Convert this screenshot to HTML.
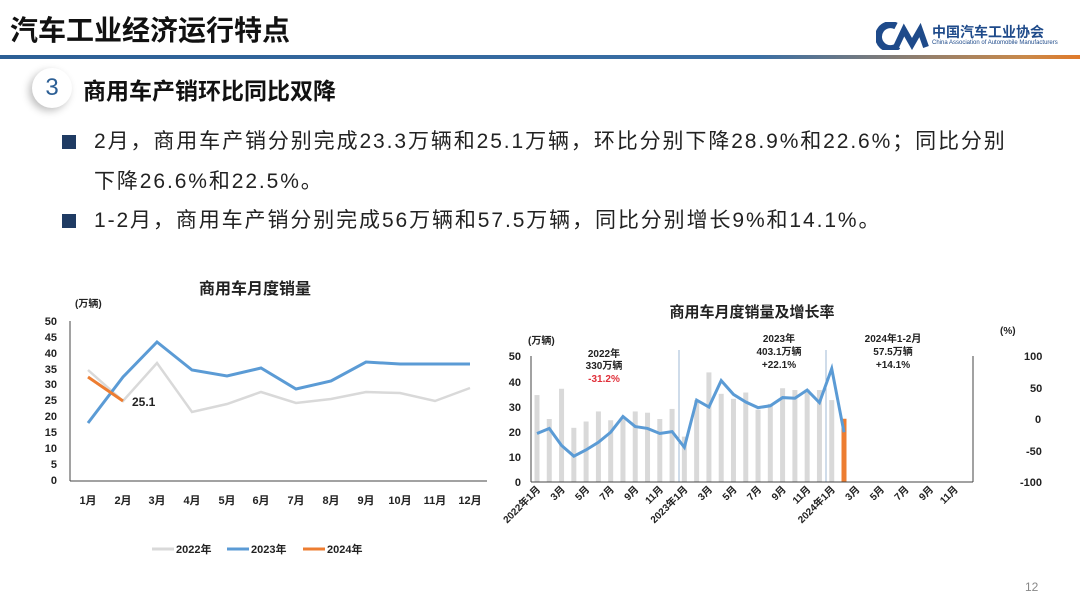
<!DOCTYPE html>
<html><head><meta charset="utf-8"><style>
body{margin:0;width:1080px;height:604px;background:#fff;position:relative;overflow:hidden;font-family:"Liberation Sans","Noto Sans CJK SC",sans-serif;color:#222}
.a{position:absolute;white-space:nowrap}
</style></head><body>
<div class="a" style="left:10px;top:9px;font-size:28px;font-weight:bold;color:#111">汽车工业经济运行特点</div>
<div class="a" style="left:0;top:55px;width:1080px;height:4px;background:linear-gradient(90deg,#2c5f95 0%,#3a6fa5 70%,#c9894a 95%,#e07a2a 100%)"></div>
<svg class="a" style="left:876px;top:22px" width="55" height="28" viewBox="0 0 55 28"><path d="M20 4 A12 12 0 1 0 22 24" stroke="#1e4a8a" stroke-width="7" fill="none"/><path d="M20 25 L28 8 L36 22 L44 8 L50 25" stroke="#1e4a8a" stroke-width="6" fill="none"/></svg>
<div class="a" style="left:932px;top:22px;font-size:14px;font-weight:bold;color:#1e4a8a">中国汽车工业协会</div>
<div class="a" style="left:932px;top:40px;font-size:6px;color:#1e4a8a">China Association of Automobile Manufacturers</div>
<div class="a" style="left:32px;top:68px;width:40px;height:40px;border-radius:50%;background:#fff;box-shadow:-3px 3px 8px rgba(0,0,0,0.25);font-size:24px;color:#2c5f95;text-align:center;line-height:40px">3</div>
<div class="a" style="left:83px;top:72px;font-size:23px;font-weight:bold;color:#111">商用车产销环比同比双降</div>
<div class="a" style="left:62px;top:135px;width:14px;height:14px;background:#1f3b63"></div>
<div class="a" style="left:94px;top:122px;font-size:21px;letter-spacing:1.9px;line-height:40px;color:#222">2月，商用车产销分别完成23.3万辆和25.1万辆，环比分别下降28.9%和22.6%；同比分别<br>下降26.6%和22.5%。</div>
<div class="a" style="left:62px;top:214px;width:14px;height:14px;background:#1f3b63"></div>
<div class="a" style="left:94px;top:206px;font-size:21px;letter-spacing:1.9px;line-height:30px;color:#222">1-2月，商用车产销分别完成56万辆和57.5万辆，同比分别增长9%和14.1%。</div>
<div class="a" style="left:1025px;top:580px;font-size:12px;color:#888">12</div>

<svg class="a" style="left:0;top:0" width="1080" height="604" font-family="Liberation Sans,Noto Sans CJK SC,sans-serif" font-weight="bold">
<text x="255" y="294" font-size="16" text-anchor="middle" fill="#222">商用车月度销量</text>
<text x="75" y="307" font-size="10" fill="#222">(万辆)</text>
<g font-size="11" fill="#222" text-anchor="end">
<text x="57" y="484">0</text><text x="57" y="468">5</text><text x="57" y="452">10</text><text x="57" y="436">15</text><text x="57" y="420">20</text><text x="57" y="404">25</text><text x="57" y="388">30</text><text x="57" y="373">35</text><text x="57" y="357">40</text><text x="57" y="341">45</text><text x="57" y="325">50</text>
</g>
<line x1="70" y1="321" x2="70" y2="481" stroke="#444" stroke-width="1"/>
<line x1="70" y1="481" x2="487" y2="481" stroke="#444" stroke-width="1"/>
<g font-size="11" fill="#222" text-anchor="middle">
<text x="88" y="504">1月</text><text x="123" y="504">2月</text><text x="157" y="504">3月</text><text x="192" y="504">4月</text><text x="227" y="504">5月</text><text x="261" y="504">6月</text><text x="296" y="504">7月</text><text x="331" y="504">8月</text><text x="366" y="504">9月</text><text x="400" y="504">10月</text><text x="435" y="504">11月</text><text x="470" y="504">12月</text>
</g>
<polyline fill="none" stroke="#d9d9d9" stroke-width="2.5" points="88,370 123,401 157,363 192,412 227,404 261,392 296,403 331,399 366,392 400,393 435,401 470,388"/>
<polyline fill="none" stroke="#5b9bd5" stroke-width="3" points="88,423 123,377 157,342 192,370 227,376 261,368 296,389 331,381 366,362 400,364 435,364 470,364"/>
<polyline fill="none" stroke="#ed7d31" stroke-width="3" points="88,377 123,401"/>
<text x="132" y="406" font-size="12" fill="#222">25.1</text>
<line x1="152" y1="549" x2="174" y2="549" stroke="#d9d9d9" stroke-width="3"/><text x="176" y="553" font-size="11" fill="#222">2022年</text>
<line x1="227" y1="549" x2="249" y2="549" stroke="#5b9bd5" stroke-width="3"/><text x="251" y="553" font-size="11" fill="#222">2023年</text>
<line x1="303" y1="549" x2="325" y2="549" stroke="#ed7d31" stroke-width="3"/><text x="327" y="553" font-size="11" fill="#222">2024年</text>

<text x="752" y="317" font-size="15" text-anchor="middle" fill="#222">商用车月度销量及增长率</text>
<text x="528" y="344" font-size="10" fill="#222">(万辆)</text>
<text x="1000" y="334" font-size="10" fill="#222">(%)</text>
<g font-size="11" fill="#222" text-anchor="end">
<text x="521" y="486">0</text><text x="521" y="461">10</text><text x="521" y="436">20</text><text x="521" y="411">30</text><text x="521" y="386">40</text><text x="521" y="360">50</text>
</g>
<g font-size="11" fill="#222" text-anchor="start">
<text x="1020" y="486">-100</text><text x="1026" y="455">-50</text><text x="1035" y="423">0</text><text x="1030" y="392">50</text><text x="1024" y="360">100</text>
</g>
<g fill="#d9d9d9" id="bars"></g>
<line x1="679" y1="350" x2="679" y2="482" stroke="#9fb8d6" stroke-width="1"/>
<line x1="826" y1="350" x2="826" y2="482" stroke="#9fb8d6" stroke-width="1"/>
<line x1="531" y1="356" x2="531" y2="482" stroke="#444"/>
<line x1="973" y1="356" x2="973" y2="482" stroke="#444"/>
<line x1="531" y1="482" x2="973" y2="482" stroke="#444"/>
<g id="line"></g>
<g font-size="10" fill="#222" text-anchor="middle">
<text x="604" y="357">2022年</text><text x="604" y="369">330万辆</text><text x="604" y="382" fill="#e0303a">-31.2%</text>
<text x="779" y="342">2023年</text><text x="779" y="355">403.1万辆</text><text x="779" y="368">+22.1%</text>
<text x="893" y="342">2024年1-2月</text><text x="893" y="355">57.5万辆</text><text x="893" y="368">+14.1%</text>
</g>
<g id="xl" font-size="10" fill="#222" text-anchor="end"></g>
</svg>
<script>
var b=[34.5,25,37,21.5,24,28,24.5,25.8,28,27.5,25,29,18,32.5,43.5,35,33,35.5,28.7,31,37.2,36.5,36.7,36.5,32.5,25.1];
var g=[-23,-15,-42,-59,-49,-37,-21,4,-12,-15,-23,-20,-45,30,19,61,39,27,18,21,34,33,46,26,80,-21];
var s=12.28,x0=537,h="",p=[];
for(var i=0;i<26;i++){var x=x0+i*s,hh=b[i]*2.52;
h+='<rect x="'+(x-2.5)+'" y="'+(482-hh)+'" width="5" height="'+hh+'" fill="'+(i==25?'#ed7d31':'#d9d9d9')+'"/>';
p.push(x+','+(419-g[i]*0.63));}
document.getElementById('bars').innerHTML=h;
document.getElementById('line').innerHTML='<polyline fill="none" stroke="#5b9bd5" stroke-width="3" points="'+p.join(' ')+'"/>';
var L=["2022年1月","3月","5月","7月","9月","11月","2023年1月","3月","5月","7月","9月","11月","2024年1月","3月","5月","7月","9月","11月"],t="";
for(var j=0;j<18;j++){var x=x0+j*2*s+4;t+='<text transform="translate('+x+',490) rotate(-45)">'+L[j]+'</text>';}
document.getElementById('xl').innerHTML=t;
</script>
</body></html>
